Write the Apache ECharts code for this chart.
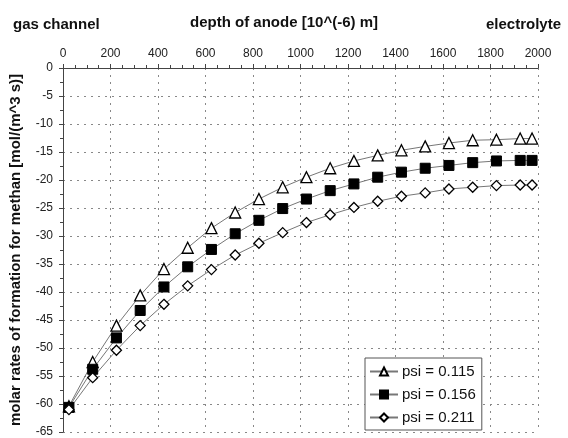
<!DOCTYPE html>
<html>
<head>
<meta charset="utf-8">
<script src="https://cdn.jsdelivr.net/npm/echarts@6/dist/echarts.min.js"></script>
<style>
  html, body { margin: 0; padding: 0; background: #fff; }
  #chart { width: 568px; height: 438px; }
</style>
</head>
<body>
<div id="chart"></div>
<script>
// depth of anode [10^(-6) m]
var depth = [25, 125, 225, 325, 425, 525, 625, 725, 825, 925, 1025,
  1125, 1225, 1325, 1425, 1525, 1625, 1725, 1825, 1925, 1975];
var psi115 = [-60.4, -52.5, -46.0, -40.6, -35.9, -32.1, -28.6, -25.8, -23.4, -21.3, -19.5,
  -17.9, -16.6, -15.6, -14.7, -14.0, -13.4, -12.9, -12.8, -12.6, -12.6];
var psi156 = [-60.6, -53.8, -48.2, -43.3, -39.1, -35.5, -32.4, -29.6, -27.2, -25.1, -23.4,
  -21.9, -20.7, -19.5, -18.6, -17.9, -17.4, -16.9, -16.6, -16.5, -16.5];
var psi211 = [-61.0, -55.3, -50.4, -46.0, -42.2, -38.9, -36.0, -33.4, -31.3, -29.4, -27.6,
  -26.2, -24.9, -23.8, -22.9, -22.3, -21.6, -21.3, -21.0, -20.9, -20.9];
var seriesNames = ['psi = 0.115', 'psi = 0.156', 'psi = 0.211'];

function pairs(ys) {
  return depth.map(function (x, i) { return [x, ys[i]]; });
}

var myChart = echarts.init(document.getElementById('chart'));
var font = 'Liberation Sans, Arial, sans-serif';
var lineColor = '#777';

var option = {
  animation: false,
  backgroundColor: '#fff',
  title: [
    { text: 'gas channel', left: 8, top: 12, textStyle: { fontFamily: font, fontSize: 15, fontWeight: 'bold', color: '#111' } },
    { text: 'depth of anode [10^(-6) m]', left: 'center', top: 10, textStyle: { fontFamily: font, fontSize: 15, fontWeight: 'bold', color: '#111' } },
    { text: 'electrolyte', right: 2, top: 12, textStyle: { fontFamily: font, fontSize: 15, fontWeight: 'bold', color: '#111' } }
  ],
  grid: { left: 59, right: 30, top: 68, bottom: 3 },
  legend: {
    orient: 'vertical',
    left: 365,
    top: 358,
    itemWidth: 28,
    itemHeight: 10,
    itemGap: 8,
    padding: [6, 6, 5, 4],
    borderColor: '#555',
    borderWidth: 1,
    backgroundColor: '#fff',
    textStyle: { fontFamily: font, fontSize: 15, color: '#111', padding: [0, 0, 0, -1] },
    data: seriesNames
  },
  xAxis: {
    type: 'value',
    position: 'top',
    min: 0,
    max: 2000,
    interval: 200,
    axisLine: { show: true, lineStyle: { color: '#444' } },
    axisTick: { show: true, length: 4, inside: false, lineStyle: { color: '#444' } },
    minorTick: { show: true, splitNumber: 4, length: 3, lineStyle: { color: '#444' } },
    axisLabel: { fontFamily: font, fontSize: 12, color: '#222', margin: 8, formatter: function (v) { return String(v); } },
    splitLine: { show: true, lineStyle: { color: '#888', type: [2, 5] } }
  },
  yAxis: {
    type: 'value',
    min: -65,
    max: 0,
    interval: 5,
    name: 'molar rates of formation for methan [mol/(m^3 s)]',
    nameLocation: 'middle',
    nameRotate: 90,
    nameGap: 40,
    nameTextStyle: { fontFamily: font, fontSize: 15, fontWeight: 'bold', color: '#111' },
    axisLine: { show: true, lineStyle: { color: '#444' } },
    axisTick: { show: true, length: 4, lineStyle: { color: '#444' } },
    minorTick: { show: true, splitNumber: 2, length: 3, lineStyle: { color: '#444' } },
    axisLabel: { fontFamily: font, fontSize: 12, color: '#222', margin: 10 },
    splitLine: { show: true, lineStyle: { color: '#888', type: [2, 5] } }
  },
  series: [
    {
      name: seriesNames[0], type: 'line', data: pairs(psi115), smooth: false,
      symbol: 'triangle', symbolSize: 11,
      lineStyle: { color: lineColor, width: 1 },
      itemStyle: { color: '#fff', borderColor: '#000', borderWidth: 1.3 }
    },
    {
      name: seriesNames[1], type: 'line', data: pairs(psi156), smooth: false,
      symbol: 'rect', symbolSize: 10,
      lineStyle: { color: lineColor, width: 1 },
      itemStyle: { color: '#000', borderColor: '#000', borderWidth: 1 }
    },
    {
      name: seriesNames[2], type: 'line', data: pairs(psi211), smooth: false,
      symbol: 'diamond', symbolSize: 10,
      lineStyle: { color: lineColor, width: 1 },
      itemStyle: { color: '#fff', borderColor: '#000', borderWidth: 1.3 }
    }
  ]
};
myChart.setOption(option);
</script>
</body>
</html>
